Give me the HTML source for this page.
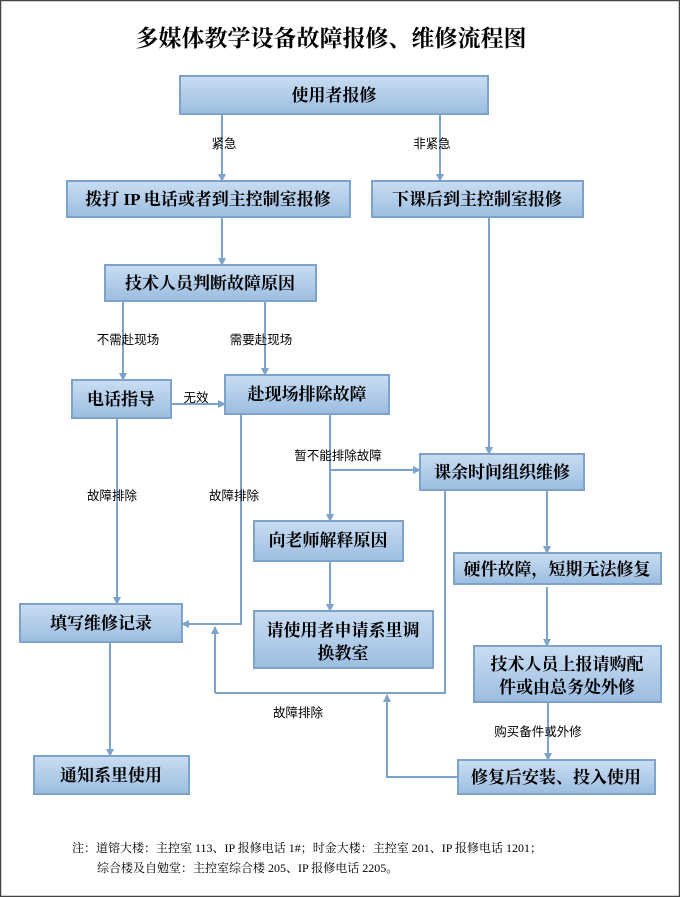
<!DOCTYPE html>
<html><head><meta charset="utf-8"><style>
body{margin:0;background:#fff}
svg{display:block}
.b{fill:url(#g);stroke:#7ea3cb;stroke-width:2}
.t{font-family:"Liberation Serif","Noto Serif CJK SC",serif;font-weight:bold;font-size:17px;fill:#000;text-anchor:middle}
.l{font-family:"Liberation Sans","Noto Sans CJK SC",sans-serif;font-size:12.5px;fill:#000;text-anchor:middle}
.c{stroke:#7ea3cb;stroke-width:2;fill:none;marker-end:url(#a)}
.n{stroke:#7ea3cb;stroke-width:2;fill:none}
.f{font-family:'Liberation Serif','Noto Serif CJK SC',serif;font-size:12px}
</style></head><body>
<svg width="680" height="897" viewBox="0 0 680 897">
<defs>
<linearGradient id="g" x1="0" y1="0" x2="0" y2="1"><stop offset="0" stop-color="#c9ddf2"/><stop offset="1" stop-color="#9cbde1"/></linearGradient>
<marker id="a" markerWidth="8" markerHeight="8" refX="7" refY="4" orient="auto" markerUnits="userSpaceOnUse"><path d="M0,0 L8,4 L0,8 Z" fill="#7ea3cb"/></marker>
</defs>
<rect x="0.5" y="0.5" width="679" height="896" fill="#fff" stroke="#444" stroke-width="1.5"/>
<text x="331" y="46" text-anchor="middle" style="font-family:'Liberation Serif','Noto Serif CJK SC',serif;font-weight:bold;font-size:23px">多媒体教学设备故障报修、维修流程图</text>

<path class="c" d="M222,114 V181"/><text class="l" x="224" y="148">紧急</text>
<path class="c" d="M440,114 V181"/><text class="l" x="432" y="148">非紧急</text>
<path class="c" d="M222,217 V265"/>
<path class="c" d="M123,301 V380"/><text class="l" x="128" y="344">不需赴现场</text>
<path class="c" d="M265,301 V375"/><text class="l" x="261" y="344">需要赴现场</text>
<path class="c" d="M171,404 H225"/><text class="l" x="196" y="402">无效</text>
<path class="c" d="M117,418 V604"/><text class="l" x="112" y="500">故障排除</text>
<path class="c" d="M241,414 V624 H182"/><text class="l" x="234" y="500">故障排除</text>
<path class="c" d="M330,414 V521"/>
<path class="c" d="M330,470 H420"/><text class="l" x="338" y="460">暂不能排除故障</text>
<path class="c" d="M489,217 V454"/>
<path class="n" d="M445,490 V693 H215"/><path class="c" d="M215,693 V627"/>
<text class="l" x="298" y="717">故障排除</text>
<path class="c" d="M547,490 V553"/>
<path class="c" d="M547,587 V646"/>
<path class="c" d="M548,702 V760"/><text class="l" x="538" y="736">购买备件或外修</text>
<path class="c" d="M330,561 V611"/>
<path class="c" d="M458,777 H387 V695"/>
<path class="c" d="M110,642 V756"/>

<rect class="b" x="180" y="76" width="308" height="38"/><text class="t" x="334" y="101">使用者报修</text>
<rect class="b" x="67" y="181" width="283" height="36"/><text class="t" x="208" y="205">拨打 IP 电话或者到主控制室报修</text>
<rect class="b" x="372" y="181" width="211" height="36"/><text class="t" x="477" y="205">下课后到主控制室报修</text>
<rect class="b" x="105" y="265" width="211" height="36"/><text class="t" x="210" y="289">技术人员判断故障原因</text>
<rect class="b" x="72" y="380" width="99" height="38"/><text class="t" x="121" y="405">电话指导</text>
<rect class="b" x="225" y="375" width="164" height="39"/><text class="t" x="307" y="400">赴现场排除故障</text>
<rect class="b" x="420" y="454" width="164" height="36"/><text class="t" x="502" y="478">课余时间组织维修</text>
<rect class="b" x="254" y="521" width="149" height="40"/><text class="t" x="328" y="546">向老师解释原因</text>
<rect class="b" x="454" y="553" width="207" height="31"/><text class="t" x="557" y="575">硬件故障，短期无法修复</text>
<rect class="b" x="254" y="611" width="179" height="57"/><text class="t" x="343" y="636">请使用者申请系里调</text><text class="t" x="343" y="659">换教室</text>
<rect class="b" x="474" y="646" width="187" height="56"/><text class="t" x="567" y="670">技术人员上报请购配</text><text class="t" x="567" y="693">件或由总务处外修</text>
<rect class="b" x="20" y="604" width="162" height="38"/><text class="t" x="101" y="629">填写维修记录</text>
<rect class="b" x="34" y="756" width="155" height="38"/><text class="t" x="111" y="781">通知系里使用</text>
<rect class="b" x="458" y="760" width="197" height="34"/><text class="t" x="556" y="783">修复后安装、投入使用</text>

<text class="f" x="72" y="852">注：道镕大楼：主控室 113、IP 报修电话 1#；时金大楼：主控室 201、IP 报修电话 1201；</text>
<text class="f" x="97" y="872">综合楼及自勉堂：主控室综合楼 205、IP 报修电话 2205。</text>
</svg>
</body></html>
